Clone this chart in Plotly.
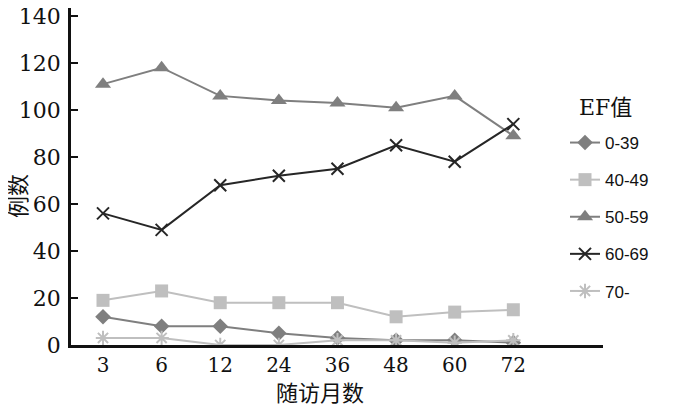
import plotly.graph_objects as go

months = ["3", "6", "12", "24", "36", "48", "60", "72"]
ef_0_39 = [12, 8, 8, 5, 3, 2, 2, 1]
ef_40_49 = [19, 23, 18, 18, 18, 12, 14, 15]
ef_50_59 = [111, 118, 106, 104, 103, 101, 106, 89]
ef_60_69 = [56, 49, 68, 72, 75, 85, 78, 94]
ef_70 = [3, 3, 0, 0, 2, 2, 1, 2]
y_ticks = [0, 20, 40, 60, 80, 100, 120, 140]

series = [
    ("0-39", ef_0_39, "#7f7f7f", "diamond", 12, "#7f7f7f", 0),
    ("40-49", ef_40_49, "#bfbfbf", "square", 13, "#bfbfbf", 0),
    ("50-59", ef_50_59, "#7f7f7f", "triangle-up", 14, "#7f7f7f", 0),
    ("60-69", ef_60_69, "#262626", "x-thin-open", 12, "#262626", 2),
    ("70-", ef_70, "#bfbfbf", "asterisk-open", 12, "#bfbfbf", 2),
]

fig = go.Figure()
for i, (name, vals, color, sym, size, mcol, mlw) in enumerate(series):
    fig.add_trace(go.Scatter(
        x=months, y=vals, name=name, mode="lines+markers",
        legendgroup=f"g{i}",
        line=dict(color=color, width=2),
        marker=dict(symbol=sym, size=size, color=mcol,
                    line=dict(color=mcol, width=mlw)),
    ))

# page body has an 8px margin; figure coords = screen coords - 8
L, R, T, B = 63, 105, 0, 70
W, H = 700, 407
pw, ph = W - L - R, H - T - B
bottom = H - B  # plot bottom in figure px


def px(x):
    return (x - L) / pw


def py(y):
    return (bottom - y) / ph


fig.update_layout(
    width=W, height=H,
    margin=dict(l=L, r=R, t=T, b=B, autoexpand=False),
    paper_bgcolor="white", plot_bgcolor="white",
    font=dict(family="DejaVu Serif", color="#111111"),
    showlegend=True,
    legend=dict(
        x=px(557), xanchor="left",
        y=py(117), yanchor="top",
        bgcolor="rgba(0,0,0,0)",
        font=dict(family="Liberation Sans Narrow, Liberation Sans", size=17, color="#111111"),
        tracegroupgap=12,
        traceorder="grouped",
    ),
    xaxis=dict(
        type="category", range=[-0.546, 8.53], automargin=False,
        showline=True, linecolor="#111111", linewidth=2.5,
        ticks="", showgrid=False, zeroline=False,
        tickfont=dict(family="DejaVu Serif", size=20, color="#111111"),
    ),
    yaxis=dict(
        range=[0, 143.4], tickvals=y_ticks, automargin=False,
        showline=True, linecolor="#111111", linewidth=2.5,
        ticks="inside", ticklen=7, tickwidth=2, tickcolor="#111111",
        showgrid=False, zeroline=False,
        ticklabelstandoff=3, ticklabeloverflow="allow",
        tickfont=dict(family="DejaVu Serif", size=22, color="#111111"),
    ),
    annotations=[
        dict(text="随访月数", x=px(312), y=py(383),
             xref="paper", yref="paper", xanchor="center", yanchor="middle",
             showarrow=False, font=dict(family="Noto Sans CJK SC", size=22, color="#111111")),
        dict(text="例数", x=px(8), y=py(188),
             xref="paper", yref="paper", xanchor="center", yanchor="middle",
             textangle=-90, showarrow=False,
             font=dict(family="Noto Sans CJK SC", size=22, color="#111111")),
        dict(text="EF值", x=px(569), y=py(99),
             xref="paper", yref="paper", xanchor="left", yanchor="middle",
             showarrow=False, font=dict(family="DejaVu Serif, Noto Sans CJK SC", size=22, color="#111111")),
    ],
)

fig.write_html("out.html")
